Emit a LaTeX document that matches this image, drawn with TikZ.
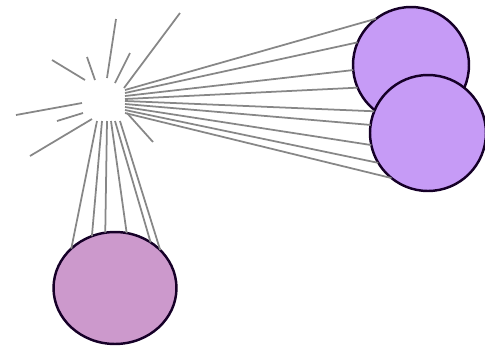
\documentclass[tikz,border=0pt]{standalone}
\usepackage{xcolor}
\usepackage{tikz}
\usetikzlibrary{shapes.geometric}

\definecolor{lavender}{RGB}{198,155,246}
\definecolor{orchid}{RGB}{204,153,204}
\definecolor{rim}{RGB}{22,0,40}
\definecolor{raygray}{RGB}{135,135,135}

\begin{document}
\begin{tikzpicture}[x=0.02cm, y=-0.02cm,
  ball/.style={circle, draw=rim, line width=1.4pt, fill=lavender,
    minimum size=2.32cm, inner sep=0pt, outer sep=0pt},
  ray/.style={draw=raygray, line width=1pt}]
\useasboundingbox (0,0) rectangle (485,346);

% light source
\coordinate (flash) at (103,97);

% the balls
\node[ball] (ballA) at (411,65) {};
\node[ball] (ballB) at (428,133) {};
\node[ball, ellipse, fill=orchid, minimum width=2.46cm, minimum height=2.24cm]
  (ballC) at (115,288) {};

% short rays round the flash
\foreach \xa/\ya/\xb/\yb in {116/19/107/78, 52/60/85/80, 87/57/95/80,
    130/53/115/83, 180/13/124/88, 16/115/82/103, 57/121/83/113,
    30/156/92/119, 127/113/153/142} {
  \draw[ray] (\xa,\ya) -- (\xb,\yb);
}

% rays to the upper balls
\foreach \sy/\ball/\ang in {90/ballA/127, 93/ballA/157, 96/ballA/185,
    99/ballA/203, 101/ballB/158, 104/ballB/172, 107/ballB/192,
    110/ballB/211, 113/ballB/231} {
  \draw[ray] (125,\sy) -- (\ball.\ang);
}

% rays down to the lower ball
\foreach \sx/\ang in {97/138, 102/114, 107/100, 111/78, 115/52, 120/40} {
  \draw[ray] (\sx,121) -- (ballC.\ang);
}
\end{tikzpicture}
\end{document}
